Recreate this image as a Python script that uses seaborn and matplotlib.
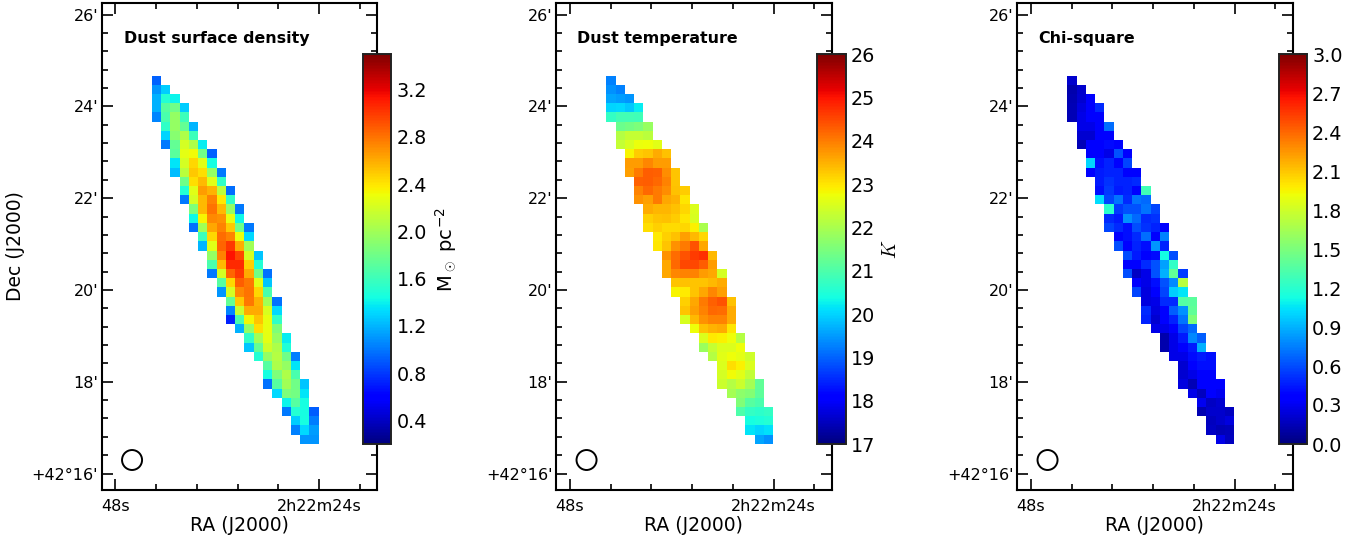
import numpy as np
import pandas as pd
import matplotlib
matplotlib.use("Agg")
import matplotlib.pyplot as plt
from matplotlib.patches import Ellipse
import seaborn as sns

# first filled column of each map row (same mask in all three maps)
row_start = [0, 0, 0, 0, 0, 1, 1, 1, 2, 2, 2, 3, 3, 3, 4, 4, 4, 5, 5, 6,
             6, 6, 7, 7, 8, 8, 8, 9, 10, 10, 11, 12, 12, 12, 13, 14, 14, 15, 15, 16]

density_rows = [
    [0.93], [1.1, 1.28], [1.18, 1.5, 1.4], [1.18, 1.7, 1.8, 1.28], [1.05, 1.65, 1.95, 1.6],
    [1.55, 1.95, 1.75, 1.2], [1.3, 1.9, 2.05, 1.6], [1.0, 1.75, 2.2, 2.05, 1.38],
    [1.72, 2.27, 2.32, 1.8, 0.93], [1.35, 2.2, 2.45, 2.25, 1.45],
    [1.22, 2.1, 2.5, 2.42, 1.95, 1.0], [1.8, 2.42, 2.55, 2.25, 1.55],
    [1.5, 2.25, 2.65, 2.58, 2.1, 0.97], [1.0, 2.2, 2.55, 2.75, 2.38, 1.55],
    [1.85, 2.55, 2.8, 2.55, 1.95, 1.0], [1.42, 2.35, 2.72, 2.7, 2.28, 1.42],
    [0.98, 2.0, 2.62, 2.75, 2.5, 1.8, 1.0], [1.6, 2.45, 2.82, 2.75, 2.3, 1.32],
    [1.2, 2.25, 2.85, 3.0, 2.6, 2.0], [1.95, 2.75, 3.13, 2.95, 2.2, 1.25],
    [1.65, 2.55, 3.05, 3.05, 2.48, 1.5], [1.0, 2.2, 2.85, 3.0, 2.6, 1.8, 0.98],
    [1.7, 2.45, 2.88, 2.78, 2.25, 1.25], [1.1, 2.2, 2.72, 2.8, 2.45, 1.65],
    [1.75, 2.5, 2.78, 2.58, 2.0, 0.98], [1.05, 2.15, 2.6, 2.6, 2.22, 1.32],
    [0.72, 1.65, 2.33, 2.52, 2.28, 1.55], [1.18, 1.95, 2.42, 2.28, 1.85],
    [1.55, 2.0, 2.27, 1.95, 1.38], [1.25, 1.75, 2.18, 2.05, 1.48],
    [1.5, 1.95, 2.07, 1.8, 1.02], [1.7, 2.05, 1.95, 1.36], [1.45, 1.85, 2.05, 1.65],
    [0.98, 1.7, 2.0, 1.8, 1.25], [1.32, 1.85, 1.82, 1.35], [1.4, 1.7, 1.45],
    [1.0, 1.5, 1.45, 0.92], [1.28, 1.45, 1.02], [1.03, 1.32, 1.12], [1.1, 1.1],
]

temperature_rows = [
    [19.25], [19.4, 19.25], [19.6, 19.5, 19.45], [20.0, 20.05, 19.9, 20.2],
    [20.7, 20.9, 20.9, 20.85], [21.3, 21.4, 21.5, 21.8], [22.1, 22.3, 22.3, 22.2],
    [22.3, 22.5, 22.7, 22.75, 22.6], [22.85, 23.25, 23.3, 23.55, 23.35],
    [23.7, 23.7, 23.9, 23.7, 23.7], [23.65, 24.0, 24.3, 24.25, 23.85, 23.3],
    [24.25, 24.3, 24.2, 23.95, 23.3], [23.95, 24.2, 24.0, 23.85, 23.35, 23.25],
    [23.8, 23.65, 24.0, 23.6, 23.5, 23.0], [23.55, 23.45, 23.45, 23.35, 23.15, 22.55],
    [23.2, 23.3, 23.35, 23.25, 23.0, 22.5], [23.05, 23.2, 23.1, 23.1, 23.15, 22.9, 22.0],
    [22.95, 23.2, 23.35, 23.65, 23.4, 23.15], [23.0, 23.3, 23.8, 24.0, 24.4, 23.6],
    [23.8, 24.15, 24.4, 24.6, 24.7, 23.4], [23.6, 24.2, 24.5, 24.5, 24.3, 23.7],
    [23.6, 23.9, 23.95, 23.95, 23.7, 23.6, 22.45], [23.3, 23.35, 23.3, 23.3, 23.4, 23.55],
    [22.85, 22.95, 23.3, 23.6, 23.9, 23.65], [23.2, 23.6, 24.0, 24.25, 24.4, 23.35],
    [23.3, 23.65, 23.95, 24.2, 24.15, 23.55], [22.5, 23.4, 23.8, 23.95, 23.95, 23.55],
    [22.75, 23.35, 23.5, 23.55, 23.0], [22.55, 22.95, 22.9, 22.75, 22.1],
    [21.85, 22.3, 22.55, 22.55, 22.75], [22.1, 22.6, 22.75, 22.65, 22.4],
    [22.55, 23.05, 22.9, 22.55], [22.45, 22.8, 22.6, 22.25],
    [22.35, 22.1, 22.35, 21.95, 21.2], [21.95, 21.7, 21.6, 21.15], [21.55, 21.1, 20.95],
    [21.0, 20.7, 20.65, 20.7], [20.4, 20.45, 20.55], [20.15, 20.0, 20.1], [19.6, 19.4],
]

chi_rows = [
    [0.2], [0.12, 0.2], [0.13, 0.22, 0.33], [0.15, 0.25, 0.33, 0.5], [0.15, 0.27, 0.33, 0.36],
    [0.28, 0.28, 0.36, 0.7], [0.22, 0.22, 0.33, 0.36], [0.15, 0.33, 0.33, 0.4, 0.38],
    [0.34, 0.36, 0.28, 0.62, 0.33], [1.0, 0.42, 0.48, 0.33, 0.58],
    [0.33, 0.45, 0.47, 0.47, 0.37, 0.33], [0.45, 0.52, 0.48, 0.47, 0.5],
    [0.42, 0.55, 0.45, 0.47, 0.33, 1.28], [1.02, 0.58, 0.72, 0.5, 0.72, 0.68],
    [1.2, 0.55, 0.62, 0.62, 0.72, 0.58], [0.5, 0.45, 0.8, 0.68, 0.5, 0.52],
    [0.58, 0.5, 0.42, 0.6, 0.52, 0.48, 0.36], [0.35, 0.42, 0.5, 0.7, 0.35, 0.75],
    [0.6, 0.33, 0.48, 0.42, 0.82, 0.48], [0.6, 0.45, 0.33, 0.4, 1.12, 0.6],
    [0.33, 0.33, 0.5, 0.62, 0.85, 1.22], [0.6, 0.18, 0.28, 0.62, 0.9, 1.4, 0.55],
    [0.33, 0.28, 0.42, 0.62, 0.78, 1.72], [0.58, 0.25, 0.33, 0.58, 0.98, 1.05],
    [0.25, 0.27, 0.5, 0.5, 1.35, 1.38], [0.5, 0.25, 0.33, 0.65, 0.8, 1.4],
    [0.48, 0.22, 0.33, 0.47, 0.72, 1.5], [0.28, 0.28, 0.33, 0.58, 0.68],
    [0.12, 0.27, 0.45, 0.78, 0.65], [0.12, 0.27, 0.33, 0.45, 0.9],
    [0.27, 0.28, 0.4, 0.45, 0.42], [0.22, 0.33, 0.42, 0.42], [0.22, 0.27, 0.33, 0.34],
    [0.25, 0.15, 0.33, 0.33, 0.36], [0.28, 0.17, 0.33, 0.3], [0.3, 0.18, 0.22],
    [0.13, 0.2, 0.2, 0.17], [0.17, 0.2, 0.25], [0.18, 0.15, 0.16], [0.28, 0.17],
]

titles = ["Dust surface density", "Dust temperature", "Chi-square"]
cbar_labels = [r"M$_\odot$ pc$^{\mathdefault{-2}}$", r"$K$", ""]
vmins = [0.2, 17, 0]
vmaxs = [3.5, 26, 3]
cbar_ticks = [np.arange(0.4, 3.3, 0.4), np.arange(17, 27, 1), np.arange(0, 3.1, 0.3)]
cbar_formats = ["%.1f", "%d", "%.1f"]

ra_major = [48, 24]
ra_major_labels = ["48s", "2h22m24s"]
ra_minor = [43.2, 38.4, 33.6, 28.8, 19.2]
dec_major = [26, 24, 22, 20, 18, 16]
dec_major_labels = ["26'", "24'", "22'", "20'", "18'", "+42°16'"]
dec_minor = [25.6, 25.2, 24.8, 24.4, 23.6, 23.2, 22.8, 22.4, 21.6, 21.2, 20.8, 20.4,
             19.6, 19.2, 18.8, 18.4, 17.6, 17.2, 16.8, 16.4]

sns.set_style("ticks", {"axes.edgecolor": "black", "text.color": "black",
                        "xtick.color": "black", "ytick.color": "black",
                        "axes.labelcolor": "black"})
plt.rcParams["font.family"] = "DejaVu Sans"
plt.rcParams["mathtext.fontset"] = "cm"
plt.rcParams["mathtext.default"] = "it"


def to_grid(rows):
    grid = np.full((len(rows), 18), np.nan)
    for i, vals in enumerate(rows):
        grid[i, row_start[i]:row_start[i] + len(vals)] = vals
    return pd.DataFrame(grid)


# sky position <-> map cell (cells are 12" on a side)
def ra_cell(ra):
    return (43.71 - np.asarray(ra)) * 0.916


def dec_cell(dec):
    return (24.67 - np.asarray(dec)) * 4.987


W, H = 1367, 539
fig = plt.figure(figsize=(W / 100, H / 100), dpi=100)

lefts = [101.5, 556, 1017]
title_x = [-2.95, -3.2, -3.1]
all_rows = [density_rows, temperature_rows, chi_rows]

for k in range(3):
    ax = fig.add_axes([lefts[k] / W, 1 - 490 / H, 275.5 / W, 487 / H])
    cax = fig.add_axes([(lefts[k] + 261.5) / W, 1 - 444 / H, 28 / W, 390 / H])

    sns.heatmap(to_grid(all_rows[k]), ax=ax, cbar_ax=cax, cmap="jet",
                vmin=vmins[k], vmax=vmaxs[k],
                cbar_kws={"ticks": cbar_ticks[k], "format": cbar_formats[k]})

    ax.set_xlim(-5.42, 24.3)
    ax.set_ylim(45.03, -7.9)

    ax.set_xticks(ra_cell(ra_major))
    ax.set_xticklabels(ra_major_labels, rotation=0)
    ax.set_xticks(ra_cell(ra_minor), minor=True)
    ax.set_yticks(dec_cell(dec_major))
    ax.set_yticklabels(dec_major_labels, rotation=0, va="center_baseline")
    ax.set_yticks(dec_cell(dec_minor), minor=True)
    ax.tick_params(which="major", direction="in", length=8, width=1.2,
                   top=True, right=True, labelsize=11.5)
    ax.tick_params(axis="x", which="major", pad=6.5)
    ax.tick_params(axis="y", which="major", pad=2.5)
    ax.tick_params(which="minor", direction="in", length=4.5, width=1.2,
                   top=True, right=True)
    for s in ax.spines.values():
        s.set_visible(True)
        s.set_linewidth(1.5)

    ax.set_xlabel("RA (J2000)", fontsize=13.5, labelpad=1.5)
    if k == 0:
        ax.set_ylabel("Dec (J2000)", fontsize=13.5, labelpad=4.5)

    ax.text(title_x[k], -4.05, titles[k], fontsize=11.4, fontweight="bold", va="center")
    # beam
    ax.add_patch(Ellipse((-2.125, 41.77), 2.16, 2.17, fill=False, ec="black", lw=1.4))

    cax.tick_params(direction="in", length=6, width=1.2, labelsize=13.8, pad=4,
                    left=False, right=True)
    cax.yaxis.set_ticks_position("right")
    for s in cax.spines.values():
        s.set_visible(True)
        s.set_linewidth(1.2)
        s.set_edgecolor("#222222")
    if cbar_labels[k]:
        cax.set_ylabel(cbar_labels[k], fontsize=14, labelpad=4)

fig.savefig("out.png", dpi=100)
